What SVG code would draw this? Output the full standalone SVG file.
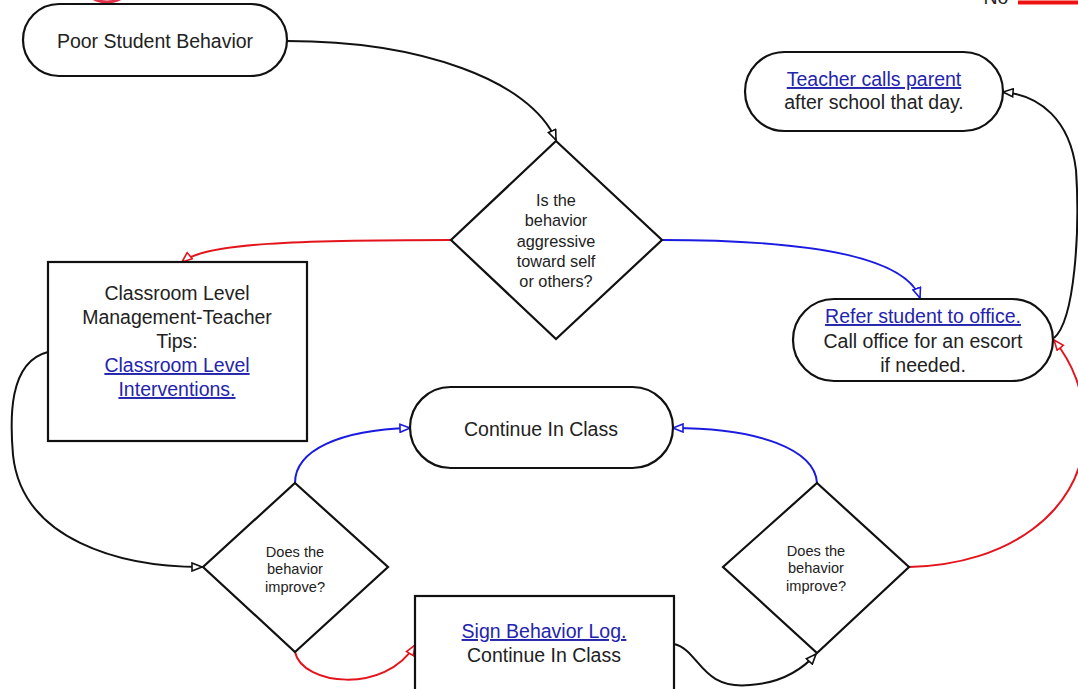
<svg xmlns="http://www.w3.org/2000/svg" width="1078" height="689" viewBox="0 0 1078 689">
<style>
.node{fill:#fff;stroke:#111;stroke-width:2.2}
.t{font-family:"Liberation Sans",Arial,sans-serif;font-size:19.5px;fill:#222;text-anchor:middle}
.s{font-size:16.3px}
.xs{font-size:14.6px}
.link{fill:#2424ad;text-decoration:underline}
.c{fill:none;stroke-width:2}
.k{stroke:#111}
.r{stroke:#e3141c}
.b{stroke:#1a1ae0}
</style>
<defs>
<marker id="ak" viewBox="0 0 12 10" refX="11" refY="5" markerWidth="12" markerHeight="10" markerUnits="userSpaceOnUse" orient="auto"><path d="M1,1 L11,5 L1,9 Z" fill="#fff" stroke="#111" stroke-width="1.6"/></marker>
<marker id="ar" viewBox="0 0 12 10" refX="11" refY="5" markerWidth="12" markerHeight="10" markerUnits="userSpaceOnUse" orient="auto"><path d="M1,1 L11,5 L1,9 Z" fill="#fff" stroke="#e3141c" stroke-width="1.6"/></marker>
<marker id="ab" viewBox="0 0 12 10" refX="11" refY="5" markerWidth="12" markerHeight="10" markerUnits="userSpaceOnUse" orient="auto"><path d="M1,1 L11,5 L1,9 Z" fill="#fff" stroke="#1a1ae0" stroke-width="1.6"/></marker>
</defs>
<rect width="1078" height="689" fill="#fff"/>

<g id="legend">
<ellipse cx="107" cy="-14" rx="22" ry="16" fill="none" stroke="#e0304a" stroke-width="3"/>
<text class="t" x="996" y="4">No</text>
<line x1="1018" y1="2.5" x2="1078" y2="2.5" stroke="#ee1111" stroke-width="4"/>
</g>

<g id="connectors">
<path class="c k" d="M287,41 C420,41 530,80 556,140" marker-end="url(#ak)"/>
<path class="c r" d="M451,240 C300,240 205,243 182,262" marker-end="url(#ar)"/>
<path class="c b" d="M662,240 C800,240 905,255 920,298" marker-end="url(#ab)"/>
<path class="c k" d="M48,352 C8,362 10,420 13,455 C22,540 120,567 202,567" marker-end="url(#ak)"/>
<path class="c b" d="M295,483 C295,450 340,430 410,428" marker-end="url(#ab)"/>
<path class="c r" d="M295,652 C302,685 385,695 415,645" marker-end="url(#ar)"/>
<path class="c k" d="M674,644 C700,650 700,690 750,685 C780,683 800,672 816,654" marker-end="url(#ak)"/>
<path class="c b" d="M817,483 C815,450 760,428 673,428" marker-end="url(#ab)"/>
<path class="c r" d="M909,567 C1010,565 1080,510 1084,440 C1087,390 1070,360 1054,340" marker-end="url(#ar)"/>
<path class="c k" d="M1054,338 C1075,320 1080,230 1076,170 C1070,120 1040,95 1003,92" marker-end="url(#ak)"/>
</g>

<g id="poor-student-behavior">
<rect class="node" x="23" y="4" width="264" height="72" rx="36"/>
<text class="t" x="155" y="48">Poor Student Behavior</text>
</g>

<g id="is-aggressive">
<polygon class="node" points="556,141 662,240 556,339 451,240"/>
<text class="t s" x="556" y="206">Is the</text>
<text class="t s" x="556" y="226">behavior</text>
<text class="t s" x="556" y="247">aggressive</text>
<text class="t s" x="556" y="267">toward self</text>
<text class="t s" x="556" y="287">or others?</text>
</g>

<g id="classroom-level">
<rect class="node" x="48" y="262" width="259" height="179"/>
<text class="t" x="177" y="300">Classroom Level</text>
<text class="t" x="177" y="324">Management-Teacher</text>
<text class="t" x="177" y="348">Tips:</text>
<text class="t link" x="177" y="372">Classroom Level</text>
<text class="t link" x="177" y="396">Interventions.</text>
</g>

<g id="teacher-calls-parent">
<rect class="node" x="745" y="52" width="258" height="79" rx="39.5"/>
<text class="t link" x="874" y="86">Teacher calls parent</text>
<text class="t" x="874" y="109">after school that day.</text>
</g>

<g id="refer-student">
<rect class="node" x="793" y="299" width="260" height="82" rx="41"/>
<text class="t link" x="923" y="323">Refer student to office.</text>
<text class="t" x="923" y="348">Call office for an escort</text>
<text class="t" x="923" y="372">if needed.</text>
</g>

<g id="continue-in-class">
<rect class="node" x="410" y="387" width="263" height="81" rx="40.5"/>
<text class="t" x="541" y="436">Continue In Class</text>
</g>

<g id="improve-left">
<polygon class="node" points="295,483 388,567 295,652 203,567"/>
<text class="t xs" x="295" y="557">Does the</text>
<text class="t xs" x="295" y="574">behavior</text>
<text class="t xs" x="295" y="592">improve?</text>
</g>

<g id="improve-right">
<polygon class="node" points="817,483 909,567 817,653 723,567"/>
<text class="t xs" x="816" y="556">Does the</text>
<text class="t xs" x="816" y="573">behavior</text>
<text class="t xs" x="816" y="591">improve?</text>
</g>

<g id="sign-behavior-log">
<rect class="node" x="415" y="596" width="259" height="100"/>
<text class="t link" x="544" y="638">Sign Behavior Log.</text>
<text class="t" x="544" y="662">Continue In Class</text>
</g>
</svg>
